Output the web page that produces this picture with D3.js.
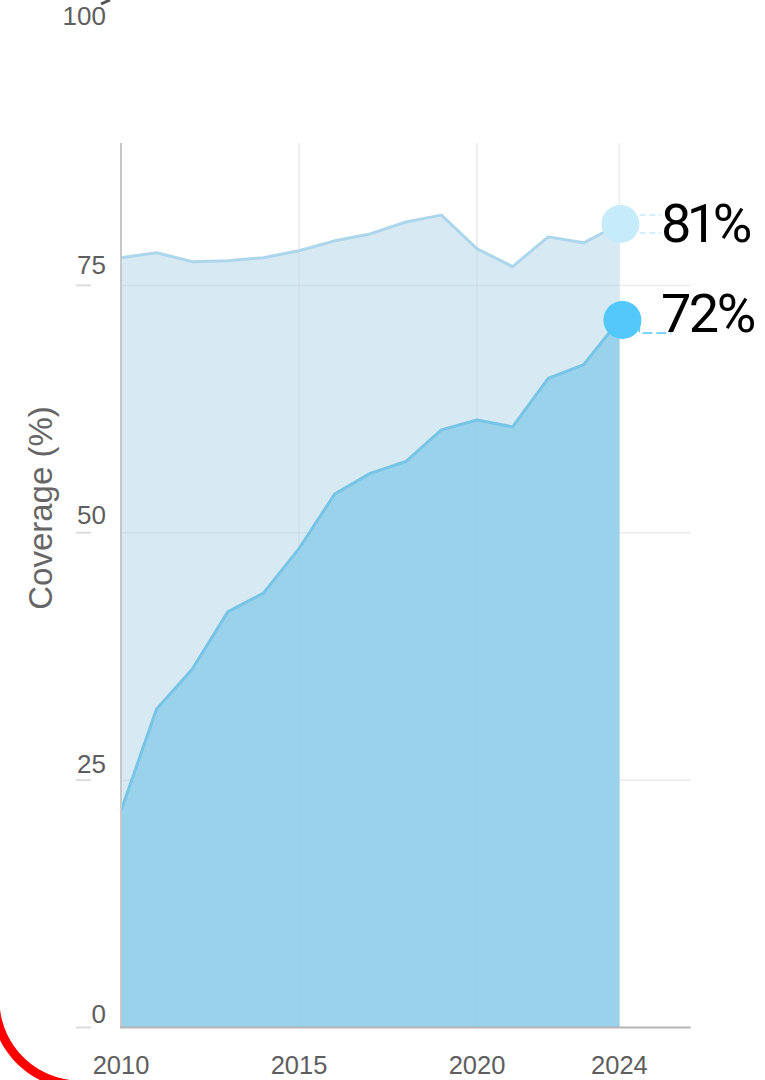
<!DOCTYPE html>
<html>
<head>
<meta charset="utf-8">
<script src="https://cdn.jsdelivr.net/npm/d3@7"></script>
<style>
  html, body { margin: 0; padding: 0; background: #fff; }
  svg { display: block; }
</style>
</head>
<body>
<svg id="chart" width="765" height="1080"></svg>
<script>
// ---- data ----
const years = [2010, 2011, 2012, 2013, 2014, 2015, 2016, 2017, 2018, 2019, 2020, 2021, 2022, 2023, 2024];
const upperSeries = [77.8, 78.3, 77.4, 77.5, 77.8, 78.5, 79.5, 80.2, 81.4, 82.1, 78.7, 76.9, 79.9, 79.3, 81.2];
const lowerSeries = [21.9, 32.2, 36.2, 42.0, 43.9, 48.4, 53.9, 56.0, 57.2, 60.4, 61.4, 60.7, 65.6, 67.0, 71.5];
const yTicks = [0, 25, 50, 75, 100];
const xTicks = [2010, 2015, 2020, 2024];
const gridYears = [2015, 2020, 2024];
const gridValues = [25, 50, 75];
const endLabels = ["81%", "72%"];
const yTitle = "Coverage (%)";

// ---- scales ----
const svg = d3.select("#chart");
const x = d3.scaleLinear().domain([2010, 2026]).range([121, 690.6]);
const y = d3.scaleLinear().domain([0, 100]).range([1027.5, 38]);
const yLab = y.copy().range([1022.5, 25]);
const plotTop = 143;

const upper = years.map((yr, i) => ({yr, v: upperSeries[i]}));
const lower = years.map((yr, i) => ({yr, v: lowerSeries[i]}));

// ---- gridlines (white area) ----
svg.append("g").selectAll("line").data(gridValues).join("line")
   .attr("x1", x(2010)).attr("x2", x(2026))
   .attr("y1", d => y(d)).attr("y2", d => y(d))
   .attr("stroke", "#ebebeb").attr("stroke-width", 1.5);
svg.append("g").selectAll("line").data(gridYears).join("line")
   .attr("x1", d => x(d)).attr("x2", d => x(d))
   .attr("y1", plotTop).attr("y2", y(0))
   .attr("stroke", "#ebebeb").attr("stroke-width", 1.5);

// ---- areas ----
const area = d3.area().x(d => x(d.yr)).y0(y(0)).y1(d => y(d.v));
const line = d3.line().x(d => x(d.yr)).y(d => y(d.v));

svg.append("path").datum(upper).attr("d", area).attr("fill", "#d7e9f3");
// grid visible through the light area
const gridOver = svg.append("g");
gridOver.selectAll("line.h").data(gridValues).join("line")
   .attr("x1", x(2010)).attr("x2", x(2024))
   .attr("y1", d => y(d)).attr("y2", d => y(d))
   .attr("stroke", "rgba(0,0,0,0.045)").attr("stroke-width", 1.5);
gridOver.selectAll("line.v").data(gridYears.filter(d => d < 2024)).join("line")
   .attr("x1", d => x(d)).attr("x2", d => x(d))
   .attr("y1", d => y(upperSeries[years.indexOf(d)])).attr("y2", y(0))
   .attr("stroke", "rgba(0,0,0,0.04)").attr("stroke-width", 1.5);

svg.append("path").datum(upper).attr("d", line).attr("fill", "none")
   .attr("stroke", "#acd6eb").attr("stroke-width", 3).attr("stroke-linejoin", "round");
svg.append("path").datum(lower).attr("d", area).attr("fill", "#97d0ea").attr("fill-opacity", 0.96);
svg.append("path").datum(lower).attr("d", line).attr("fill", "none")
   .attr("stroke", "#78c4e6").attr("stroke-width", 3).attr("stroke-linejoin", "round");

// ---- axes lines ----
svg.append("line").attr("x1", x(2010)).attr("x2", x(2010)).attr("y1", plotTop).attr("y2", y(0))
   .attr("stroke", "#c8c8c8").attr("stroke-width", 2);
svg.append("line").attr("x1", x(2010) - 1).attr("x2", x(2026)).attr("y1", y(0)).attr("y2", y(0))
   .attr("stroke", "#b4b4b4").attr("stroke-width", 2);

// ---- y ticks & labels ----
const yg = svg.append("g");
yg.selectAll("line").data(yTicks.filter(d => d < 100)).join("line")
   .attr("x1", 76).attr("x2", 91).attr("y1", d => y(d)).attr("y2", d => y(d))
   .attr("stroke", "#dcdcdc").attr("stroke-width", 2);
yg.selectAll("text").data(yTicks).join("text")
   .attr("x", 106).attr("y", d => yLab(d))
   .attr("text-anchor", "end")
   .attr("font-family", "'Liberation Sans', Arial, sans-serif")
   .attr("font-size", 26).attr("fill", "#5e5e5e")
   .text(d => d);
// small dark mark beside the top label
svg.append("line").attr("x1", 101).attr("y1", 4).attr("x2", 110).attr("y2", 0)
   .attr("stroke", "#555").attr("stroke-width", 3);

// ---- x labels ----
svg.append("g").selectAll("text").data(xTicks).join("text")
   .attr("x", d => x(d)).attr("y", 1073.5)
   .attr("text-anchor", "middle")
   .attr("font-family", "'Liberation Sans', Arial, sans-serif")
   .attr("font-size", 25.5).attr("fill", "#5e5e5e")
   .text(d => d);

// ---- y title ----
svg.append("text")
   .attr("transform", "translate(52,508) rotate(-90)")
   .attr("text-anchor", "middle")
   .attr("font-family", "'Liberation Sans', Arial, sans-serif")
   .attr("font-size", 33).attr("fill", "#666")
   .text(yTitle);

// ---- end markers and labels ----
const last = years.length - 1;
const ends = [
  {v: upperSeries[last], label: endLabels[0], color: "#c6ecfb", dx: 1, ls: -4.5},
  {v: lowerSeries[last], label: endLabels[1], color: "#52c8fb", dx: 3, ls: -2.5}
];
// faint connectors
svg.append("path")
   .attr("d", `M${x(2024) + 20},${y(ends[0].v) - 9}H${x(2024) + 42}M${x(2024) + 20},${y(ends[0].v) + 9}H${x(2024) + 42}`)
   .attr("stroke", "#c6ecfb").attr("stroke-width", 1.5).attr("stroke-dasharray", "6,4").attr("fill", "none");
svg.append("path")
   .attr("d", `M${x(2024) + 20},${y(ends[1].v) + 2}V${y(ends[1].v) + 13}H${x(2024) + 52}`)
   .attr("stroke", "#52c8fb").attr("stroke-width", 1.5).attr("stroke-dasharray", "10,4").attr("fill", "none");

svg.append("g").selectAll("circle").data(ends).join("circle")
   .attr("cx", d => x(2024) + d.dx).attr("cy", d => y(d.v)).attr("r", 19)
   .attr("fill", d => d.color);
svg.append("g").selectAll("text").data(ends).join("text")
   .attr("x", 661).attr("y", (d, i) => y(d.v) + (i === 0 ? 18 : 12))
   .attr("font-family", "Roboto, 'Open Sans', sans-serif")
   .attr("font-size", 54).attr("letter-spacing", d => d.ls).attr("fill", "#000")
   .text(d => d.label);

// ---- red decorative arc (bottom-left) ----
const arcCx = 80, arcCy = 1000, arcR = 85;
const arcPts = d3.range(96, 176, 2).map(a => {
  const r = a * Math.PI / 180;
  return [arcCx + arcR * Math.cos(r), arcCy + arcR * Math.sin(r)];
});
svg.append("path").attr("d", d3.line()(arcPts))
   .attr("fill", "none").attr("stroke", "#ff0000").attr("stroke-width", 9);
</script>
</body>
</html>
